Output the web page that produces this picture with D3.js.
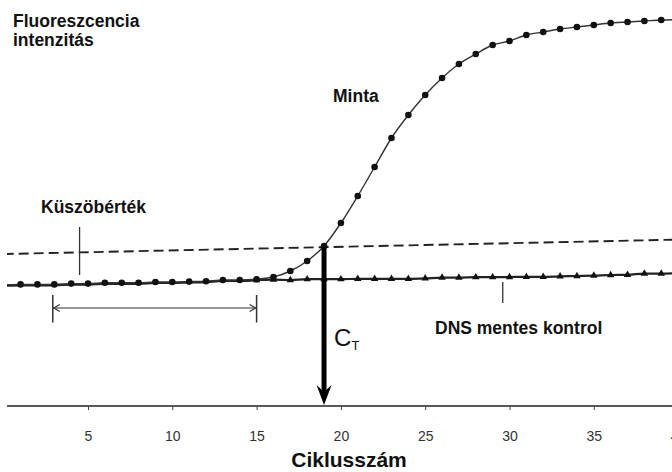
<!DOCTYPE html>
<html>
<head>
<meta charset="utf-8">
<script src="https://cdn.jsdelivr.net/npm/d3@7"></script>
<style>
  html, body { margin: 0; padding: 0; background: #fff; }
  svg { display: block; }
  .lbl { font-family: "Liberation Sans", Arial, sans-serif; font-weight: bold; fill: #111; }
</style>
</head>
<body>
<svg id="chart" width="672" height="472"></svg>
<script>
// ---- data ----
const cycles = [0,1,2,3,4,5,6,7,8,9,10,11,12,13,14,15,16,17,18,19,20,21,22,23,24,25,26,27,28,29,30,31,32,33,34,35,36,37,38,39,40];
const sampleValues = [30.3,30.4,30.4,30.4,30.6,30.6,30.8,30.8,30.8,31.0,31.0,31.1,31.2,31.5,31.5,31.7,32.25,33.75,36.25,40,45.75,52.5,59.75,67,72.75,77.75,82,85.5,88,90.25,91.25,92.75,93.5,94.25,94.75,95.25,95.75,96,96.25,96.5,96.6];
const controlValues = [30.05,30.15,30.15,30.15,30.35,30.35,30.55,30.55,30.55,30.75,30.75,30.85,30.95,31.25,31.25,31.45,31.6,31.5,31.7,31.7,31.7,31.8,31.8,31.8,31.8,31.9,32.1,32.1,32.2,32.2,32.25,32.3,32.3,32.4,32.5,32.6,32.75,32.8,33.1,33.1,33.2];
const thresholdCycles = [0, 40];
const thresholdValues = [38, 41.6];
const tickValues = [5, 10, 15, 20, 25, 30, 35, 40];
const ctCycle = 19;
const baselineRange = [3, 15];
const controlMarkerStart = 15;
const thresholdLabelCycle = 4.5;
const controlLabelCycle = 29.6;

// ---- scales ----
const W = 672, H = 472;
const x = d3.scaleLinear().domain([0, 40]).range([3.7, 678.1]);
const y = d3.scaleLinear().domain([0, 100]).range([406, 6]);

const svg = d3.select("#chart");
svg.append("defs").append("clipPath").attr("id", "clip")
  .append("rect").attr("x", 7).attr("y", 0).attr("width", W - 7).attr("height", H);

const g = svg.append("g").attr("clip-path", "url(#clip)");

const sample = cycles.map((c, i) => ({c, v: sampleValues[i]}));
const control = cycles.map((c, i) => ({c, v: controlValues[i]}));
const threshold = thresholdCycles.map((c, i) => ({c, v: thresholdValues[i]}));

const line = d3.line().x(d => x(d.c)).y(d => y(d.v)).curve(d3.curveMonotoneX);

// x axis
const axis = d3.axisBottom(x).tickValues(tickValues).tickSize(4).tickPadding(21).tickFormat(d3.format("d"));
const ax = g.append("g").attr("transform", `translate(0,${y(0)})`).call(axis);
ax.select(".domain").attr("stroke", "#222").attr("stroke-width", 1.6).attr("d", `M7,0H${W}`);
ax.selectAll(".tick line").attr("stroke", "#444").attr("stroke-width", 1);
ax.selectAll(".tick text").attr("font-family", "Liberation Sans, Arial, sans-serif")
  .attr("font-size", 14).attr("fill", "#333");

// threshold dashed line
g.append("path").datum(threshold)
  .attr("d", d3.line().x(d => x(d.c)).y(d => y(d.v)))
  .attr("fill", "none").attr("stroke", "#222").attr("stroke-width", 1.9)
  .attr("stroke-dasharray", "10,5");

// control line
g.append("path").datum(control).attr("d", line)
  .attr("fill", "none").attr("stroke", "#222").attr("stroke-width", 2.2);

// sample line
g.append("path").datum(sample).attr("d", line)
  .attr("fill", "none").attr("stroke", "#333").attr("stroke-width", 1.4);

// control triangles
g.selectAll(".tri").data(control.filter(d => d.c >= controlMarkerStart)).join("path")
  .attr("class", "tri")
  .attr("transform", d => `translate(${x(d.c)},${y(d.v)})`)
  .attr("d", d3.symbol(d3.symbolTriangle, 24))
  .attr("fill", "#111");

// sample dots
g.selectAll(".dot").data(sample.filter(d => d.c >= 1)).join("circle")
  .attr("class", "dot")
  .attr("cx", d => x(d.c)).attr("cy", d => y(d.v)).attr("r", 3.3)
  .attr("fill", "#111");

// CT arrow
const ctX = x(ctCycle);
const ctTop = y(thresholdValues[0] + (thresholdValues[1] - thresholdValues[0]) * ctCycle / 40);
const tipY = y(0) - 1;
g.append("line").attr("x1", ctX).attr("x2", ctX).attr("y1", ctTop).attr("y2", tipY - 12)
  .attr("stroke", "#000").attr("stroke-width", 5);
g.append("path")
  .attr("d", `M${ctX},${tipY} L${ctX - 7.5},${tipY - 20} L${ctX},${tipY - 13} L${ctX + 7.5},${tipY - 20} Z`)
  .attr("fill", "#000");

// CT label
const ct = g.append("text").attr("x", ctX + 10).attr("y", 346)
  .attr("font-family", "Liberation Sans, Arial, sans-serif").attr("font-size", 24).attr("fill", "#111");
ct.append("tspan").text("C");
ct.append("tspan").attr("font-size", 13).attr("dy", 4).text("T");

// baseline bracket
const bx1 = x(baselineRange[0]) - 1.5, bx2 = x(baselineRange[1]);
const by = 308;
g.append("line").attr("x1", bx1).attr("x2", bx2).attr("y1", by).attr("y2", by)
  .attr("stroke", "#333").attr("stroke-width", 1.2);
[bx1, bx2].forEach(bx => {
  g.append("line").attr("x1", bx).attr("x2", bx).attr("y1", 295).attr("y2", 322.5)
    .attr("stroke", "#333").attr("stroke-width", 1.5);
});
g.append("path").attr("d", `M${bx1 + 7},${by - 3.5} L${bx1 + 1},${by} L${bx1 + 7},${by + 3.5}`)
  .attr("fill", "none").attr("stroke", "#333").attr("stroke-width", 1.2);
g.append("path").attr("d", `M${bx2 - 7},${by - 3.5} L${bx2 - 1},${by} L${bx2 - 7},${by + 3.5}`)
  .attr("fill", "none").attr("stroke", "#333").attr("stroke-width", 1.2);

// pointer ticks
g.append("line").attr("x1", x(thresholdLabelCycle)).attr("x2", x(thresholdLabelCycle))
  .attr("y1", 227).attr("y2", 275).attr("stroke", "#333").attr("stroke-width", 1.3);
g.append("line").attr("x1", x(controlLabelCycle)).attr("x2", x(controlLabelCycle))
  .attr("y1", 282).attr("y2", 303).attr("stroke", "#333").attr("stroke-width", 1.3);

// labels
const labels = [
  {t: "Fluoreszcencia", x: 13, y: 27},
  {t: "intenzitás", x: 13, y: 46},
  {t: "Minta", x: 333, y: 102},
  {t: "Küszöbérték", x: 41, y: 213},
  {t: "DNS mentes kontrol", x: 435, y: 334}
];
svg.selectAll(".lbl").data(labels).join("text").attr("class", "lbl")
  .attr("x", d => d.x).attr("y", d => d.y).attr("font-size", 17.5).text(d => d.t);

svg.append("text").attr("class", "lbl").attr("x", 349).attr("y", 467)
  .attr("text-anchor", "middle").attr("font-size", 21).text("Ciklusszám");
</script>
</body>
</html>
